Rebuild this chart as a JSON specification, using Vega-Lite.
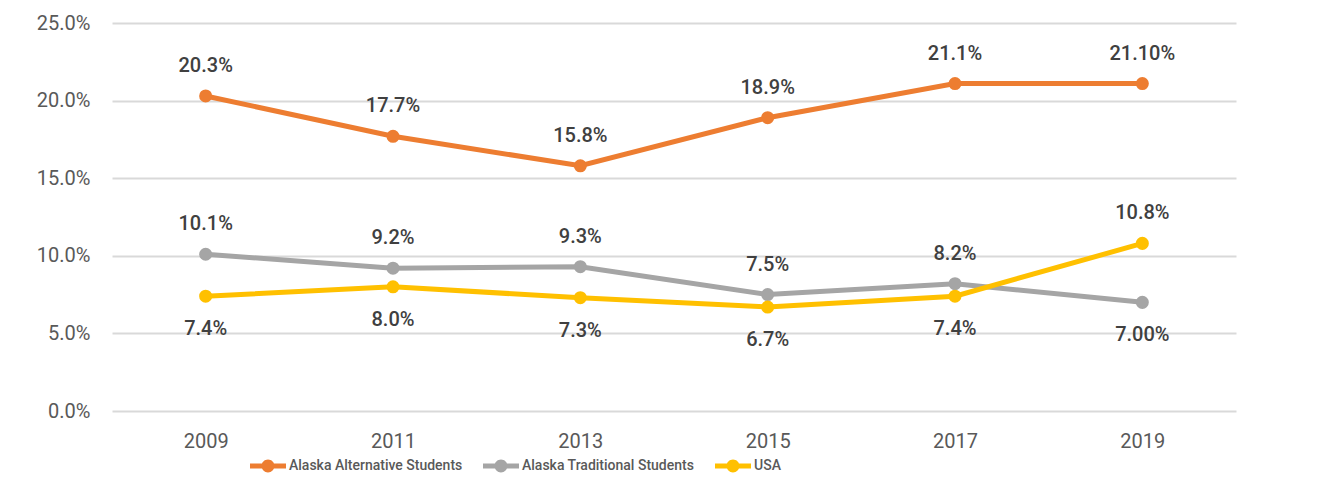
{
  "$schema": "https://vega.github.io/schema/vega-lite/v6.json",
  "width": 1124,
  "height": 388,
  "autosize": {"type": "none"},
  "padding": {"left": 112, "top": 23, "right": 86, "bottom": 77},
  "background": "white",
  "config": {"view": {"stroke": null}, "font": "Roboto"},
  "data": {
    "values": [
      {"year": "2009", "series": "Alaska Alternative Students", "value": 0.203, "label": "20.3%"},
      {"year": "2011", "series": "Alaska Alternative Students", "value": 0.177, "label": "17.7%"},
      {"year": "2013", "series": "Alaska Alternative Students", "value": 0.158, "label": "15.8%"},
      {"year": "2015", "series": "Alaska Alternative Students", "value": 0.189, "label": "18.9%"},
      {"year": "2017", "series": "Alaska Alternative Students", "value": 0.211, "label": "21.1%"},
      {"year": "2019", "series": "Alaska Alternative Students", "value": 0.211, "label": "21.10%"},
      {"year": "2009", "series": "Alaska Traditional Students", "value": 0.101, "label": "10.1%"},
      {"year": "2011", "series": "Alaska Traditional Students", "value": 0.092, "label": "9.2%"},
      {"year": "2013", "series": "Alaska Traditional Students", "value": 0.093, "label": "9.3%"},
      {"year": "2015", "series": "Alaska Traditional Students", "value": 0.075, "label": "7.5%"},
      {"year": "2017", "series": "Alaska Traditional Students", "value": 0.082, "label": "8.2%"},
      {"year": "2019", "series": "Alaska Traditional Students", "value": 0.070, "label": "7.00%"},
      {"year": "2009", "series": "USA", "value": 0.074, "label": "7.4%"},
      {"year": "2011", "series": "USA", "value": 0.080, "label": "8.0%"},
      {"year": "2013", "series": "USA", "value": 0.073, "label": "7.3%"},
      {"year": "2015", "series": "USA", "value": 0.067, "label": "6.7%"},
      {"year": "2017", "series": "USA", "value": 0.074, "label": "7.4%"},
      {"year": "2019", "series": "USA", "value": 0.108, "label": "10.8%"}
    ]
  },
  "encoding": {
    "x": {
      "field": "year", "type": "ordinal",
      "scale": {"type": "point", "padding": 0.5},
      "axis": {"title": null, "labelAngle": 0, "labelFont": "Roboto", "labelFontSize": 20, "labelColor": "#595959", "labelPadding": 20, "ticks": false, "domain": false, "grid": false}
    },
    "y": {
      "field": "value", "type": "quantitative",
      "scale": {"domain": [0, 0.25]},
      "axis": {"title": null, "values": [0, 0.05, 0.1, 0.15, 0.2, 0.25], "format": ".1%", "labelFont": "Roboto", "labelFontSize": 20, "labelColor": "#595959", "labelPadding": 22, "ticks": false, "domain": false, "gridColor": "#d9d9d9", "gridWidth": 2}
    }
  },
  "layer": [
    {
      "mark": {"type": "line", "strokeWidth": 5},
      "encoding": {
        "color": {
          "field": "series", "type": "nominal",
          "scale": {"domain": ["Alaska Alternative Students", "Alaska Traditional Students", "USA"], "range": ["#ED7D31", "#A5A5A5", "#FFC000"]},
          "legend": {
            "title": null, "orient": "none", "legendX": 138, "legendY": 425, "direction": "horizontal",
            "symbolType": "M-1,-0.14H1V0.14H-1Z M0.36,0A0.36,0.36 0 1,1 -0.36,0A0.36,0.36 0 1,1 0.36,0Z",
            "symbolSize": 1296, "symbolStrokeWidth": 0,
            "labelFont": "Roboto", "labelFontSize": 14, "labelFontWeight": 500, "labelColor": "#595959", "labelOffset": 3, "labelLimit": 0, "columnPadding": 20,
            "encode": {"symbols": {"update": {"fill": {"scale": "color", "field": "value"}, "opacity": {"value": 1}}}}
          }
        }
      }
    },
    {
      "mark": {"type": "point", "filled": true, "size": 170, "opacity": 1},
      "encoding": {"color": {"field": "series", "type": "nominal", "legend": null}}
    },
    {
      "transform": [{"filter": "datum.series == 'Alaska Alternative Students' || (datum.series == 'Alaska Traditional Students' && datum.year != '2019') || (datum.series == 'USA' && datum.year == '2019')"}],
      "mark": {"type": "text", "dy": -30, "baseline": "middle", "font": "Roboto", "fontSize": 20, "fontWeight": 500, "fill": "#404040"},
      "encoding": {"text": {"field": "label"}}
    },
    {
      "transform": [{"filter": "!(datum.series == 'Alaska Alternative Students' || (datum.series == 'Alaska Traditional Students' && datum.year != '2019') || (datum.series == 'USA' && datum.year == '2019'))"}],
      "mark": {"type": "text", "dy": 33, "baseline": "middle", "font": "Roboto", "fontSize": 20, "fontWeight": 500, "fill": "#404040"},
      "encoding": {"text": {"field": "label"}}
    }
  ]
}
